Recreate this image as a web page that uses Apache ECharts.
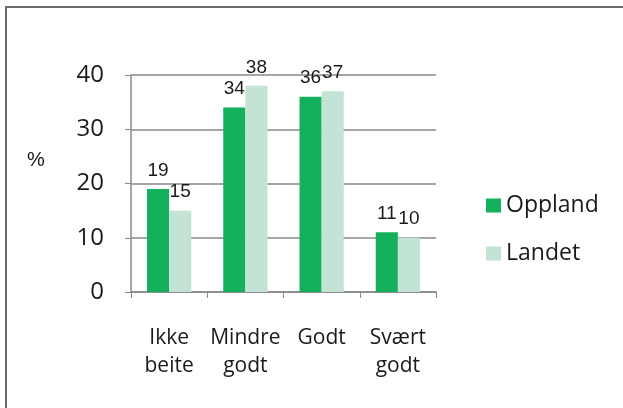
<!DOCTYPE html>
<html>
<head>
<meta charset="utf-8">
<script src="https://cdn.jsdelivr.net/npm/echarts@6/dist/echarts.min.js"></script>
<style>
  html, body { margin: 0; padding: 0; background: #fff; }
  #chart { width: 623px; height: 408px; }
</style>
</head>
<body>
<div id="chart"></div>
<script>
const categories = ['Ikke\nbeite', 'Mindre\ngodt', 'Godt', 'Svært\ngodt']
const oppland = [19, 34, 36, 11]
const landet = [15, 38, 37, 10]
const yTicks = { min: 0, max: 40, interval: 10 }

const chart = echarts.init(document.getElementById('chart'))

const labelStyle = {
  show: true,
  position: 'top',
  distance: 9,
  fontFamily: 'Liberation Sans, Arial, sans-serif',
  fontSize: 19,
  color: '#1a1a1a',
}

chart.setOption({
  animation: false,
  textStyle: { fontFamily: 'Open Sans, Noto Sans, sans-serif' },
  graphic: [
    {
      type: 'polyline',
      shape: { points: [[6, 408], [6, 7], [623, 7]] },
      style: { stroke: '#6a6a6a', lineWidth: 2, fill: null },
    },
    {
      type: 'text',
      left: 27,
      top: 150,
      style: { text: '%', fontSize: 20, fill: '#1a1a1a', fontFamily: 'Liberation Sans, Arial, sans-serif' },
    },
  ],
  grid: { left: 131, right: 187, top: 75, bottom: 116 },
  legend: {
    orient: 'vertical',
    left: 481,
    top: 189,
    itemWidth: 15,
    itemHeight: 14,
    itemGap: 25,
    icon: 'rect',
    textStyle: { fontSize: 23, color: '#1a1a1a' },
    data: ['Oppland', 'Landet'],
  },
  xAxis: {
    type: 'category',
    data: categories,
    axisLine: { lineStyle: { color: '#888', width: 1.5 } },
    axisTick: { show: true, length: 6, lineStyle: { color: '#888' } },
    axisLabel: { interval: 0, fontSize: 21, color: '#1a1a1a', lineHeight: 28, margin: 32 },
  },
  yAxis: {
    type: 'value',
    min: yTicks.min,
    max: yTicks.max,
    interval: yTicks.interval,
    axisLine: { show: true, lineStyle: { color: '#888', width: 1.5 } },
    axisTick: { show: true, length: 6, lineStyle: { color: '#888' } },
    splitLine: { lineStyle: { color: '#888', width: 1.5 } },
    axisLabel: { fontSize: 24, color: '#1a1a1a', margin: 27 },
  },
  series: [
    {
      name: 'Oppland',
      type: 'bar',
      data: oppland,
      barGap: '0%',
      barCategoryGap: '42%',
      itemStyle: { color: '#14b05c' },
      label: labelStyle,
    },
    {
      name: 'Landet',
      type: 'bar',
      data: landet,
      itemStyle: { color: '#c3e4d4' },
      label: labelStyle,
    },
  ],
})
</script>
</body>
</html>
